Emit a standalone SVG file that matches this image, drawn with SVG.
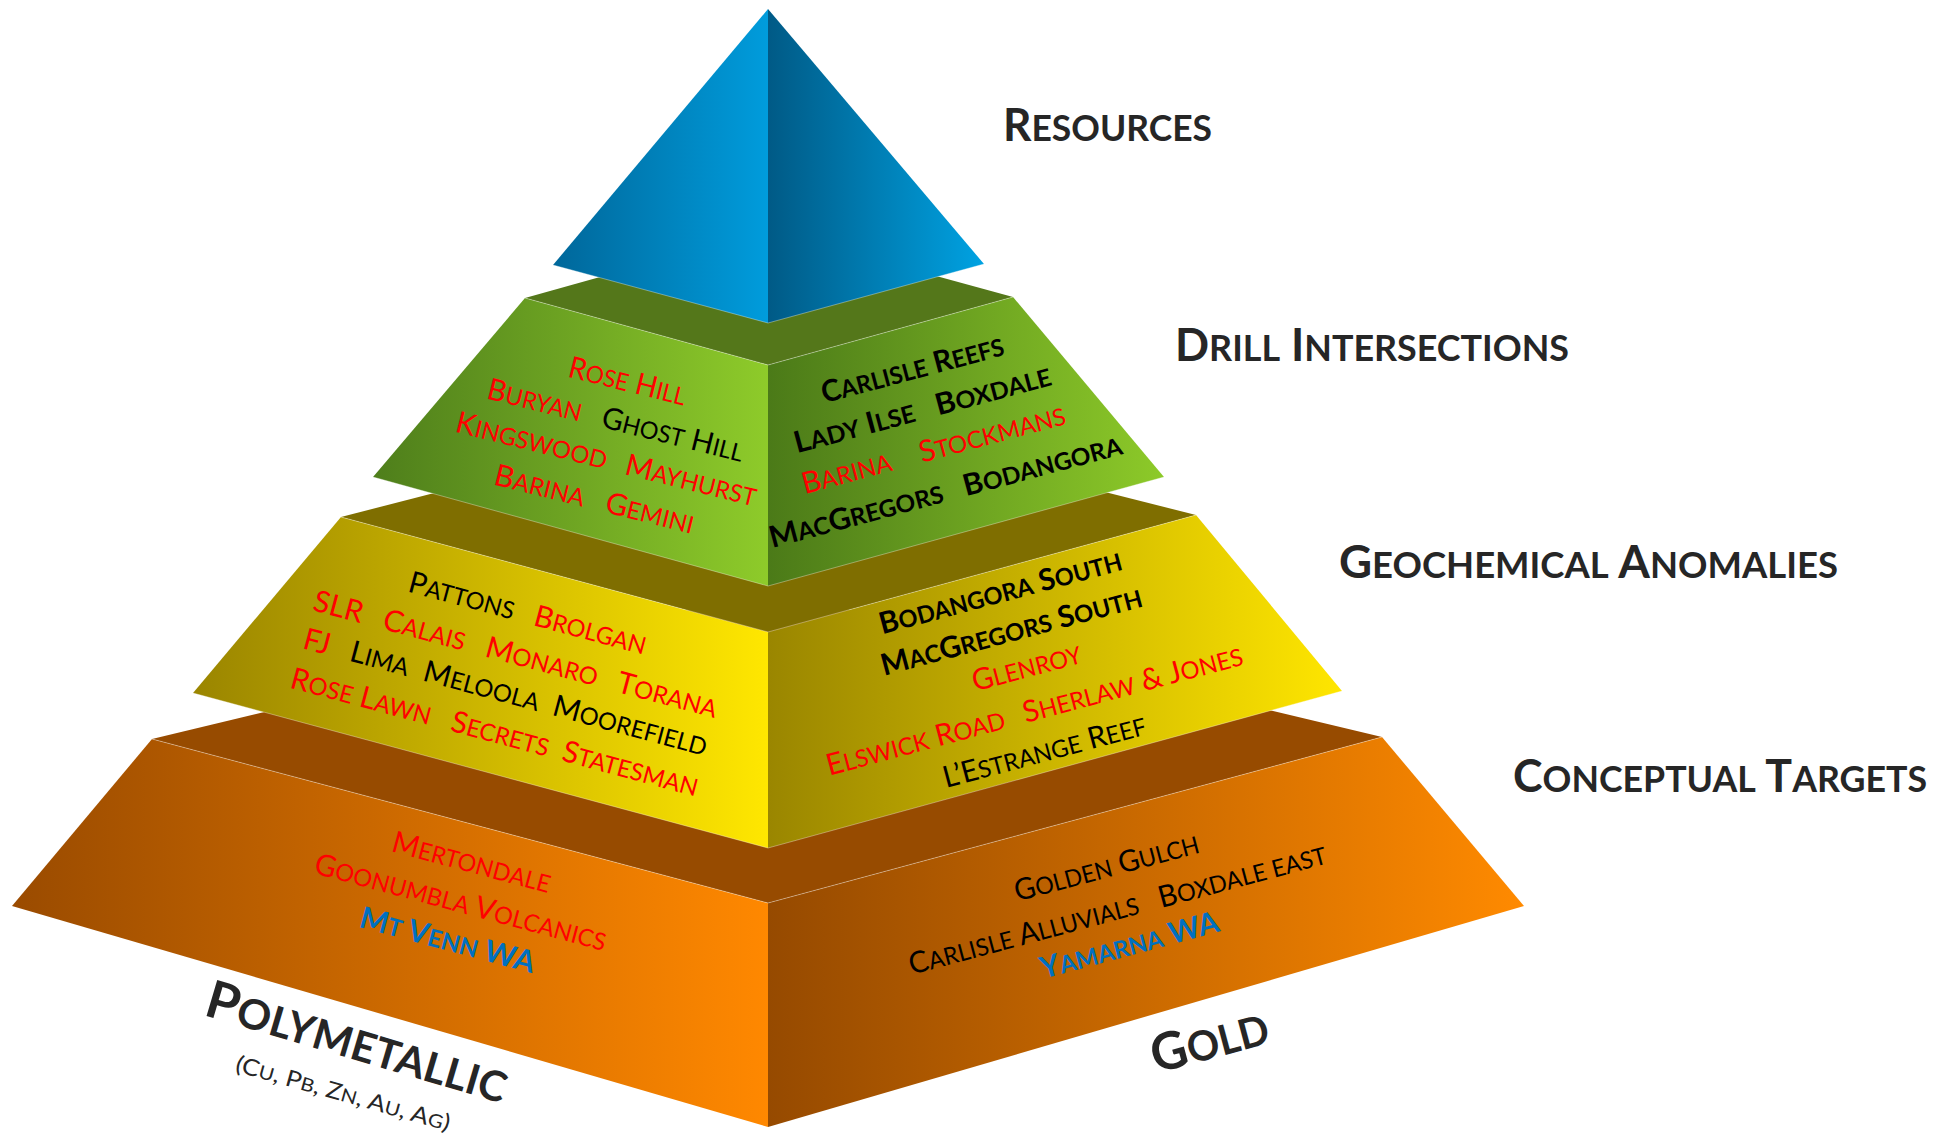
<svg xmlns="http://www.w3.org/2000/svg" width="1949" height="1141" viewBox="0 0 1949 1141">
<defs>
<linearGradient id="bL" x1="0" y1="0" x2="1" y2="0"><stop offset="0" stop-color="#00679a"/><stop offset="1" stop-color="#009cdc"/></linearGradient>
<linearGradient id="bR" x1="0" y1="0" x2="1" y2="0"><stop offset="0" stop-color="#005a86"/><stop offset="1" stop-color="#00a2e2"/></linearGradient>
<linearGradient id="gL" x1="0" y1="0" x2="1" y2="0"><stop offset="0" stop-color="#4e7e1b"/><stop offset="1" stop-color="#8ecb2a"/></linearGradient>
<linearGradient id="gR" x1="0" y1="0" x2="1" y2="0"><stop offset="0" stop-color="#4b7a18"/><stop offset="1" stop-color="#8dca29"/></linearGradient>
<linearGradient id="yL" x1="0" y1="0" x2="1" y2="0"><stop offset="0" stop-color="#9a8500"/><stop offset="1" stop-color="#ffe700"/></linearGradient>
<linearGradient id="yR" x1="0" y1="0" x2="1" y2="0"><stop offset="0" stop-color="#9a8600"/><stop offset="1" stop-color="#ffe600"/></linearGradient>
<linearGradient id="oL" x1="0" y1="0" x2="1" y2="0"><stop offset="0" stop-color="#9a4b00"/><stop offset="1" stop-color="#ff8800"/></linearGradient>
<linearGradient id="oR" x1="0" y1="0" x2="1" y2="0"><stop offset="0" stop-color="#964a00"/><stop offset="1" stop-color="#ff8a00"/></linearGradient>
</defs>
<style>
text { font-family: Lato, "Open Sans", "Liberation Sans", sans-serif; }
.s { font-size: 80%; text-transform: uppercase; }
.f { font-size: 30px; }
.b { font-weight: 700; }
.r { fill: #ff0000; }
.k { fill: #000000; }
.u { fill: #0070c0; font-weight: 700; }
.lab { font-size: 45px; font-weight: 700; fill: #262626; }
.big { font-size: 52px; font-weight: 700; fill: #262626; }
.sub { font-size: 23px; fill: #262626; }
.hl { fill: none; stroke: #ffffff; stroke-opacity: 0.35; stroke-width: 1; }
</style>

<g id="tier-conceptual">
<polygon points="152,739 768,591 1382,737 768,903" fill="#974b00"/>
<polygon points="152,739 768,903 768,1127 12,906" fill="url(#oL)"/>
<polygon points="768,903 1382,737 1524,906 768,1127" fill="url(#oR)"/>
<polyline class="hl" points="152,739 768,903 1382,737"/>
</g>

<g id="tier-geochemical">
<polygon points="341,517 768,407 1196,515 768,632" fill="#7f6e00"/>
<polygon points="341,517 768,632 768,848 193,693" fill="url(#yL)"/>
<polygon points="768,632 1196,515 1342,691 768,848" fill="url(#yR)"/>
<polyline class="hl" points="341,517 768,632 1196,515"/>
<polyline class="hl" points="193,693 768,848 1342,691"/>
</g>

<g id="tier-drill">
<polygon points="525,298 768,230 1013,297 768,365" fill="#54771a"/>
<polygon points="525,298 768,365 768,586 373,477" fill="url(#gL)"/>
<polygon points="768,365 1013,297 1164,477 768,586" fill="url(#gR)"/>
<polyline class="hl" points="525,298 768,365 1013,297"/>
<polyline class="hl" points="373,477 768,586 1164,477"/>
</g>

<g id="tier-resources">
<polygon points="768,9 768,323 553,265" fill="url(#bL)"/>
<polygon points="768,9 984,264 768,323" fill="url(#bR)"/>
<polyline class="hl" points="553,265 768,323 984,264"/>
</g>

<g id="connectors"></g>

<g id="text-drill">
<g transform="translate(625,391) rotate(14)"><text class="f r" text-anchor="middle" textLength="120" lengthAdjust="spacingAndGlyphs">R<tspan class="s">ose</tspan> H<tspan class="s">ill</tspan></text></g>
<g transform="translate(613,430) rotate(14)"><text class="f" text-anchor="middle" textLength="263" lengthAdjust="spacingAndGlyphs"><tspan class="r">B<tspan class="s">uryan</tspan></tspan> <tspan class="k" dx="14">G<tspan class="s">host</tspan> H<tspan class="s">ill</tspan></tspan></text></g>
<g transform="translate(604,469) rotate(14)"><text class="f r" text-anchor="middle" textLength="309" lengthAdjust="spacingAndGlyphs">K<tspan class="s">ingswood</tspan> <tspan dx="12">M<tspan class="s">ayhurst</tspan></tspan></text></g>
<g transform="translate(592,509) rotate(14)"><text class="f r" text-anchor="middle" textLength="205" lengthAdjust="spacingAndGlyphs">B<tspan class="s">arina</tspan> <tspan dx="14">G<tspan class="s">emini</tspan></tspan></text></g>

<g transform="translate(915,379) rotate(-15)"><text class="f k b" text-anchor="middle" textLength="188" lengthAdjust="spacingAndGlyphs">C<tspan class="s">arlisle</tspan> R<tspan class="s">eefs</tspan></text></g>
<g transform="translate(925,419) rotate(-15)"><text class="f k b" text-anchor="middle" textLength="265" lengthAdjust="spacingAndGlyphs">L<tspan class="s">ady</tspan> I<tspan class="s">lse</tspan> <tspan dx="14">B<tspan class="s">oxdale</tspan></tspan></text></g>
<g transform="translate(936,459) rotate(-15)"><text class="f r" text-anchor="middle" textLength="272" lengthAdjust="spacingAndGlyphs">B<tspan class="s">arina</tspan> <tspan dx="22">S<tspan class="s">tockmans</tspan></tspan></text></g>
<g transform="translate(948,501) rotate(-15)"><text class="f k b" text-anchor="middle" textLength="364" lengthAdjust="spacingAndGlyphs">M<tspan class="s">ac</tspan>G<tspan class="s">regors</tspan> <tspan dx="14">B<tspan class="s">odangora</tspan></tspan></text></g>
</g>

<g id="text-geochemical">
<g transform="translate(525,623) rotate(15)"><text class="f" text-anchor="middle" textLength="245" lengthAdjust="spacingAndGlyphs"><tspan class="k">P<tspan class="s">attons</tspan></tspan> <tspan class="r" dx="14">B<tspan class="s">rolgan</tspan></tspan></text></g>
<g transform="translate(513,664) rotate(15)"><text class="f r" text-anchor="middle" textLength="417" lengthAdjust="spacingAndGlyphs">SLR <tspan dx="14">C<tspan class="s">alais</tspan></tspan> <tspan dx="14">M<tspan class="s">onaro</tspan></tspan> <tspan dx="14">T<tspan class="s">orana</tspan></tspan></text></g>
<g transform="translate(503,702) rotate(15)"><text class="f" text-anchor="middle" textLength="417" lengthAdjust="spacingAndGlyphs"><tspan class="r">FJ</tspan> <tspan class="k" dx="14">L<tspan class="s">ima</tspan></tspan> <tspan class="k" dx="8">M<tspan class="s">eloola</tspan></tspan> <tspan class="k" dx="7">M<tspan class="s">oorefield</tspan></tspan></text></g>
<g transform="translate(492,742) rotate(15)"><text class="f r" text-anchor="middle" textLength="421" lengthAdjust="spacingAndGlyphs">R<tspan class="s">ose</tspan> L<tspan class="s">awn</tspan> <tspan dx="14">S<tspan class="s">ecrets</tspan></tspan> <tspan dx="7">S<tspan class="s">tatesman</tspan></tspan></text></g>

<g transform="translate(1003,602) rotate(-15)"><text class="f k b" text-anchor="middle" textLength="250" lengthAdjust="spacingAndGlyphs">B<tspan class="s">odangora</tspan> S<tspan class="s">outh</tspan></text></g>
<g transform="translate(1014,641) rotate(-15)"><text class="f k b" text-anchor="middle" textLength="269" lengthAdjust="spacingAndGlyphs">M<tspan class="s">ac</tspan>G<tspan class="s">regors</tspan> S<tspan class="s">outh</tspan></text></g>
<g transform="translate(1029,677) rotate(-15)"><text class="f r" text-anchor="middle" textLength="112" lengthAdjust="spacingAndGlyphs">G<tspan class="s">lenroy</tspan></text></g>
<g transform="translate(1037,720) rotate(-15)"><text class="f r" text-anchor="middle" textLength="430" lengthAdjust="spacingAndGlyphs">E<tspan class="s">lswick</tspan> R<tspan class="s">oad</tspan> <tspan dx="12">S<tspan class="s">herlaw</tspan> &amp; J<tspan class="s">ones</tspan></tspan></text></g>
<g transform="translate(1047,761) rotate(-15)"><text class="f k" text-anchor="middle" textLength="209" lengthAdjust="spacingAndGlyphs">L’E<tspan class="s">strange</tspan> R<tspan class="s">eef</tspan></text></g>
</g>

<g id="text-conceptual">
<g transform="translate(469,872) rotate(15)"><text class="f r" text-anchor="middle" textLength="163" lengthAdjust="spacingAndGlyphs">M<tspan class="s">ertondale</tspan></text></g>
<g transform="translate(458,912) rotate(15)"><text class="f r" text-anchor="middle" textLength="301" lengthAdjust="spacingAndGlyphs">G<tspan class="s">oonumbla</tspan> V<tspan class="s">olcanics</tspan></text></g>
<g transform="translate(445,950) rotate(15)"><text class="f u" text-anchor="middle" textLength="180" lengthAdjust="spacingAndGlyphs">M<tspan class="s">t</tspan> V<tspan class="s">enn</tspan> WA</text></g>

<g transform="translate(1109,877) rotate(-15)"><text class="f k" text-anchor="middle" textLength="190" lengthAdjust="spacingAndGlyphs">G<tspan class="s">olden</tspan> G<tspan class="s">ulch</tspan></text></g>
<g transform="translate(1120,919) rotate(-15)"><text class="f k" text-anchor="middle" textLength="431" lengthAdjust="spacingAndGlyphs">C<tspan class="s">arlisle</tspan> A<tspan class="s">lluvials</tspan> <tspan dx="14">B<tspan class="s">oxdale east</tspan></tspan></text></g>
<g transform="translate(1132,955) rotate(-15)"><text class="f u" text-anchor="middle" textLength="184" lengthAdjust="spacingAndGlyphs">Y<tspan class="s">amarna</tspan> WA</text></g>
</g>

<g id="labels">
<text class="lab" x="1003" y="141" textLength="209" lengthAdjust="spacingAndGlyphs">R<tspan class="s">esources</tspan></text>
<text class="lab" x="1175" y="361" textLength="394" lengthAdjust="spacingAndGlyphs">D<tspan class="s">rill</tspan> I<tspan class="s">ntersections</tspan></text>
<text class="lab" x="1339" y="578" textLength="499" lengthAdjust="spacingAndGlyphs">G<tspan class="s">eochemical</tspan> A<tspan class="s">nomalies</tspan></text>
<text class="lab" x="1513" y="792" textLength="414" lengthAdjust="spacingAndGlyphs">C<tspan class="s">onceptual</tspan> T<tspan class="s">argets</tspan></text>
<g transform="translate(352,1059) rotate(16.5)"><text class="big" text-anchor="middle" textLength="312" lengthAdjust="spacingAndGlyphs">P<tspan class="s">olymetallic</tspan></text></g>
<g transform="translate(341,1101) rotate(15.7)"><text class="sub" text-anchor="middle" textLength="222" lengthAdjust="spacingAndGlyphs">(C<tspan class="s">u</tspan>, P<tspan class="s">b</tspan>, Z<tspan class="s">n</tspan>, A<tspan class="s">u</tspan>, A<tspan class="s">g</tspan>)</text></g>
<g transform="translate(1214,1058) rotate(-15)"><text class="big" text-anchor="middle" textLength="120" lengthAdjust="spacingAndGlyphs">G<tspan class="s">old</tspan></text></g>
</g>
</svg>
